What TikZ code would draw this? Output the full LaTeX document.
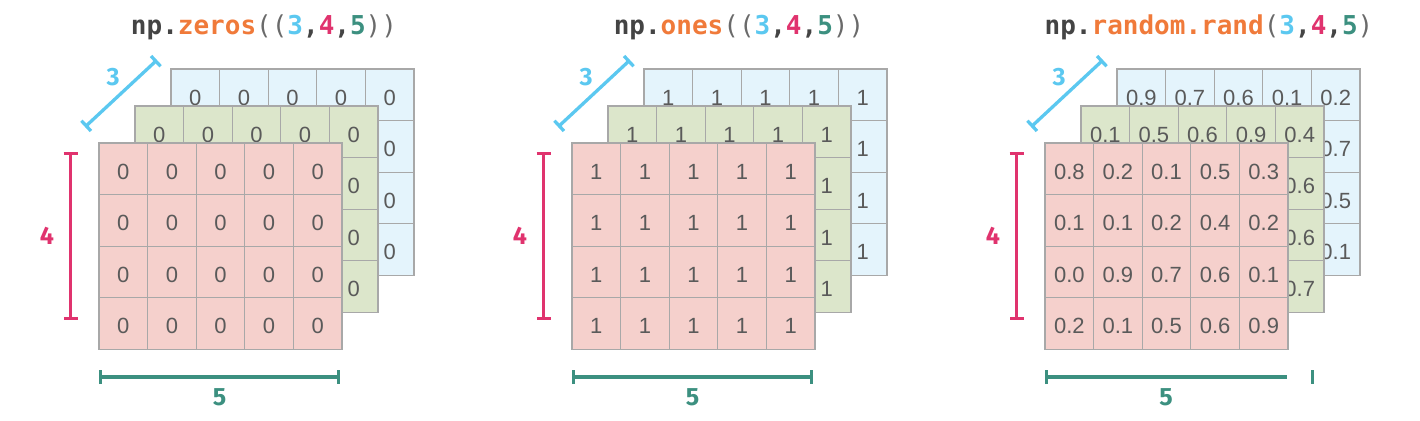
\documentclass[tikz,border=0pt]{standalone}
\usepackage{fontspec}
\setmainfont{Liberation Sans}
\newfontfamily\codefont{DejaVu Sans Mono}
\newfontfamily\dimfont{Fira Sans}
\usepackage{tikz}
\usetikzlibrary{arrows.meta}

\definecolor{dimcyan}{HTML}{5BC8F0}
\definecolor{dimpink}{HTML}{E0336E}
\definecolor{dimteal}{HTML}{3C9080}
\definecolor{fnorange}{HTML}{F07A3A}
\definecolor{codegray}{HTML}{444444}
\definecolor{parengray}{HTML}{6A6A6A}
\definecolor{redcell}{HTML}{F5D0CC}
\definecolor{greencell}{HTML}{DCE6CB}
\definecolor{bluecell}{HTML}{E4F4FC}
\definecolor{cellline}{HTML}{A8A8A8}
\definecolor{numgray}{HTML}{5A5A5A}

\newcommand{\fncall}[1]{\textcolor{fnorange}{#1}}
\newcommand{\paren}[1]{{\mdseries\textcolor{parengray}{#1}}}
\newcommand{\dimA}{\textcolor{dimcyan}{3}}
\newcommand{\dimB}{\textcolor{dimpink}{4}}
\newcommand{\dimC}{\textcolor{dimteal}{5}}

%% one 4x5 layer: name, left, top, fill, rows
\newcommand{\gridlayer}[5]{%
  \foreach \vals [count=\ri] in {#5} {
    \foreach \v [count=\ci] in \vals {
      \node[cell, fill=#4] (#1-\ri-\ci) at ({#2+(\ci-0.5)*48.6}, {#3+(\ri-0.5)*51.6}) {\v};
    }
  }%
}

\begin{document}
\begin{tikzpicture}[x=1pt, y=-1pt,
    cell/.style={draw=cellline, line width=1.3pt, minimum width=48.6pt,
      minimum height=51.6pt, inner sep=0pt, text=numgray,
      text height=20.5pt, text depth=0pt, font=\fontsize{22}{22}\selectfont},
    title/.style={anchor=base, text=codegray,
      font=\codefont\bfseries\fontsize{26}{26}\selectfont},
    dimlabel/.style={inner sep=0pt, font=\dimfont\bfseries\fontsize{25}{25}\selectfont},
    dimbar/.style={line width=3.3pt, {Bar[width=14pt]}-{Bar[width=14pt]}}]
  \useasboundingbox (0,0) rectangle (1420,420);

  %% np.zeros
  \node[title] (z-title) at (264,35) {np.\fncall{zeros}\paren{((}\dimA,\dimB,\dimC\paren{))}};
  \gridlayer{z-b}{171}{69}{bluecell}{{0,0,0,0,0},{{},{},{},{},0},{{},{},{},{},0},{{},{},{},{},0}}
  \gridlayer{z-g}{135}{106}{greencell}{{0,0,0,0,0},{{},{},{},{},0},{{},{},{},{},0},{{},{},{},{},0}}
  \gridlayer{z-r}{99}{143}{redcell}{{0,0,0,0,0},{0,0,0,0,0},{0,0,0,0,0},{0,0,0,0,0}}
  \coordinate (z-d3a) at (85,127);
  \coordinate (z-d3b) at (157,60);
  \coordinate (z-d4a) at (70.7,152);
  \coordinate (z-d4b) at (70.7,320);
  \coordinate (z-d5a) at (99,377);
  \coordinate (z-d5b) at (340,377);
  \draw[dimbar, dimcyan] (z-d3a) -- node[dimlabel, xshift=-8pt, yshift=16pt] (z-l3) {3} (z-d3b);
  \draw[dimbar, dimpink] (z-d4a) -- node[dimlabel, left=15pt] (z-l4) {4} (z-d4b);
  \draw[dimbar, dimteal] (z-d5a) -- node[dimlabel, below=10pt] (z-l5) {5} (z-d5b);

  %% np.ones
  \begin{scope}[shift={(473,0)}]
  \node[title] (o-title) at (266,35) {np.\fncall{ones}\paren{((}\dimA,\dimB,\dimC\paren{))}};
  \gridlayer{o-b}{171}{69}{bluecell}{{1,1,1,1,1},{{},{},{},{},1},{{},{},{},{},1},{{},{},{},{},1}}
  \gridlayer{o-g}{135}{106}{greencell}{{1,1,1,1,1},{{},{},{},{},1},{{},{},{},{},1},{{},{},{},{},1}}
  \gridlayer{o-r}{99}{143}{redcell}{{1,1,1,1,1},{1,1,1,1,1},{1,1,1,1,1},{1,1,1,1,1}}
  \coordinate (o-d3a) at (85,127);
  \coordinate (o-d3b) at (157,60);
  \coordinate (o-d4a) at (70.7,152);
  \coordinate (o-d4b) at (70.7,320);
  \coordinate (o-d5a) at (99,377);
  \coordinate (o-d5b) at (340,377);
  \draw[dimbar, dimcyan] (o-d3a) -- node[dimlabel, xshift=-8pt, yshift=16pt] (o-l3) {3} (o-d3b);
  \draw[dimbar, dimpink] (o-d4a) -- node[dimlabel, left=15pt] (o-l4) {4} (o-d4b);
  \draw[dimbar, dimteal] (o-d5a) -- node[dimlabel, below=10pt] (o-l5) {5} (o-d5b);
  \end{scope}

  %% np.random.rand
  \begin{scope}[shift={(946,0)}]
  \node[title] (r-title) at (263,35) {np.\fncall{random.rand}\paren{(}\dimA,\dimB,\dimC\paren{)}};
  \gridlayer{r-b}{171}{69}{bluecell}{{0.9,0.7,0.6,0.1,0.2},{{},{},{},{},0.7},{{},{},{},{},0.5},{{},{},{},{},0.1}}
  \gridlayer{r-g}{135}{106}{greencell}{{0.1,0.5,0.6,0.9,0.4},{{},{},{},{},0.6},{{},{},{},{},0.6},{{},{},{},{},0.7}}
  \gridlayer{r-r}{99}{143}{redcell}{{0.8,0.2,0.1,0.5,0.3},{0.1,0.1,0.2,0.4,0.2},{0.0,0.9,0.7,0.6,0.1},{0.2,0.1,0.5,0.6,0.9}}
  \coordinate (r-d3a) at (85,127);
  \coordinate (r-d3b) at (157,60);
  \coordinate (r-d4a) at (70.7,152);
  \coordinate (r-d4b) at (70.7,320);
  \coordinate (r-d5a) at (99,377);
  \coordinate (r-d5b) at (341,377);
  \coordinate (r-tka) at (366.3,370);
  \coordinate (r-tkb) at (366.3,384);
  \draw[dimbar, dimcyan] (r-d3a) -- node[dimlabel, xshift=-8pt, yshift=16pt] (r-l3) {3} (r-d3b);
  \draw[dimbar, dimpink] (r-d4a) -- node[dimlabel, left=15pt] (r-l4) {4} (r-d4b);
  \draw[line width=3.3pt, dimteal, {Bar[width=14pt]}-] (r-d5a) -- node[dimlabel, below=10pt] (r-l5) {5} (r-d5b);
  \draw[line width=3.3pt, dimteal] (r-tka) -- (r-tkb);
  \end{scope}
\end{tikzpicture}
\end{document}
